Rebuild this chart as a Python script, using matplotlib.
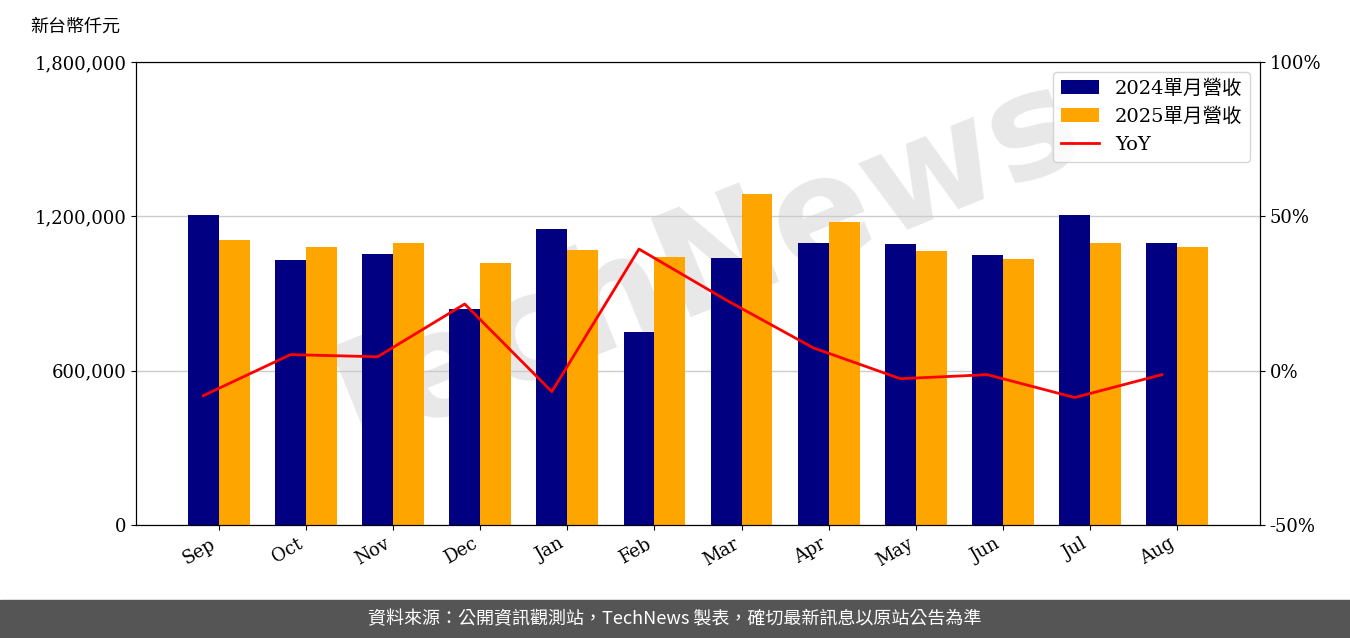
import matplotlib
matplotlib.use("Agg")
import matplotlib.pyplot as plt
import numpy as np
from matplotlib.ticker import FuncFormatter

plt.rcParams['font.family'] = ['DejaVu Serif', 'Noto Sans CJK TC']

months = ["Sep","Oct","Nov","Dec","Jan","Feb","Mar","Apr","May","Jun","Jul","Aug"]
rev2024 = [1205000,1030000,1054000,840000,1151000,750000,1038000,1096000,1092000,1050000,1205000,1096000]
rev2025 = [1108000,1081000,1096000,1019000,1069000,1042000,1287000,1178000,1065000,1034000,1096000,1081000]
yoy = [-8.1,5.2,4.5,21.6,-6.8,39.4,22.9,7.4,-2.6,-1.3,-8.7,-1.3]

fig = plt.figure(figsize=(13.5,6.38), dpi=100)
ax = fig.add_axes([136/1350, 1-525/638, (1260-136)/1350, (525-62)/638])
x = np.arange(len(months))
w = 0.355
ax.text(0.5, 0.55, 'TechNews', transform=ax.transAxes, fontsize=105, color='#e8e8e8',
        rotation=22, ha='center', va='center', fontweight='bold', zorder=0.5,
        family='DejaVu Sans')
b1 = ax.bar(x-w/2, rev2024, w, color='#000080', label='2024單月營收', zorder=2)
b2 = ax.bar(x+w/2, rev2025, w, color='#FFA500', label='2025單月營收', zorder=2)
ax.set_ylim(0,1800000)
ax.set_yticks([0,600000,1200000,1800000])
ax.yaxis.set_major_formatter(FuncFormatter(lambda v,p: f"{int(v):,}"))
ax.grid(axis='y', color='#cccccc', linewidth=1, zorder=1)
ax.set_axisbelow(True)
ax.set_xticks(x)
ax.set_xticklabels(months, rotation=30, ha='right', fontsize=13)
ax.tick_params(axis='y', labelsize=13)
ax.set_xlim(-0.95, 11.95)

ax2 = ax.twinx()
l, = ax2.plot(x - w/2, yoy, color='red', linewidth=2, label='YoY')
ax2.set_ylim(-50,100)
ax2.set_yticks([-50,0,50,100])
ax2.yaxis.set_major_formatter(FuncFormatter(lambda v,p: f"{int(v)}%"))
ax2.tick_params(axis='y', labelsize=13)

ax2.legend([b1,b2,l], ['2024單月營收','2025單月營收','YoY'], loc='upper right', fontsize=14)

fig.text(30/1350, 1-27/638, '新台幣仟元', fontsize=13, va='center')

fig.patches.append(matplotlib.patches.Rectangle((0,0),1,38/638, transform=fig.transFigure,
                   color='#555555', zorder=-1))
fig.text(0.5, 19/638, '資料來源：公開資訊觀測站，TechNews 製表，確切最新訊息以原站公告為準',
         color='white', fontsize=13, ha='center', va='center', family=['Noto Sans CJK TC'])
fig.savefig('out.png', dpi=100)
